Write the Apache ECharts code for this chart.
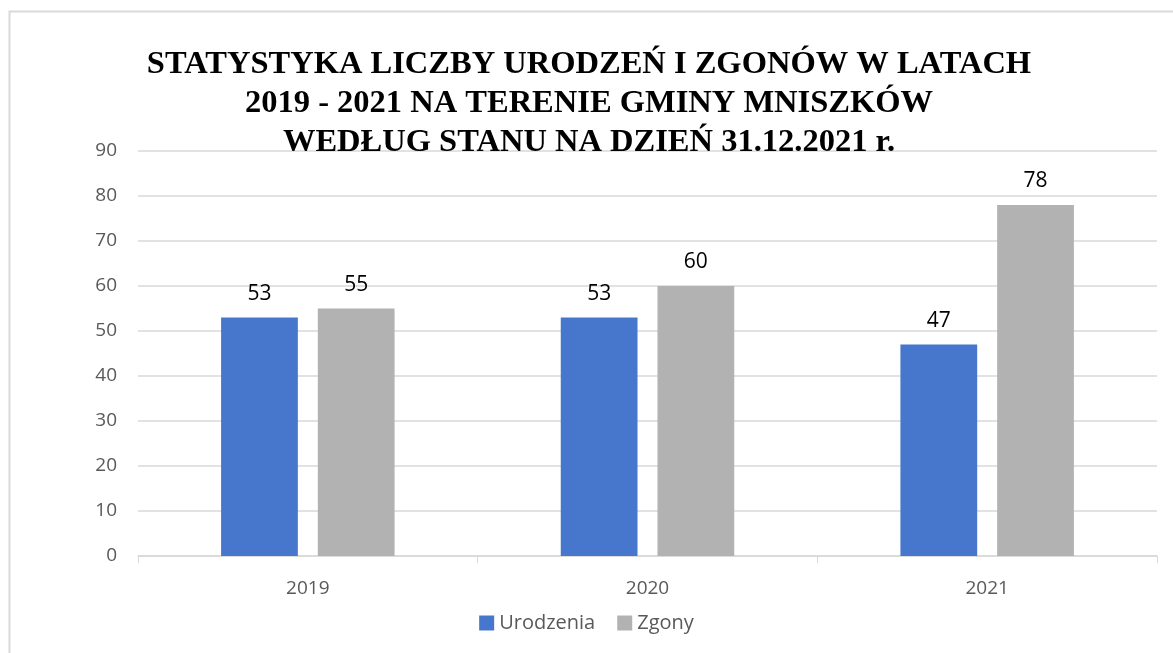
<!DOCTYPE html>
<html>
<head>
<meta charset="utf-8">
<script src="https://cdn.jsdelivr.net/npm/echarts@6/dist/echarts.min.js"></script>
<style>
  html, body { margin: 0; padding: 0; background: #fff; }
  #chart { width: 1173px; height: 653px; }
</style>
</head>
<body>
<div id="chart"></div>
<script>
// dane z wykresu
const years = ['2019', '2020', '2021']
const urodzenia = [53, 53, 47]
const zgony = [55, 60, 78]
const yTicks = { min: 0, max: 90, interval: 10 }

const chart = echarts.init(document.getElementById('chart'))

const labelStyle = {
  show: true,
  position: 'top',
  distance: 13,
  color: '#000',
  fontSize: 21,
  fontFamily: 'Open Sans'
}

const option = {
  animation: false,
  backgroundColor: '#fff',
  title: {
    text: 'STATYSTYKA LICZBY URODZEŃ I ZGONÓW W LATACH\n2019 - 2021 NA TERENIE GMINY MNISZKÓW\nWEDŁUG STANU NA DZIEŃ 31.12.2021 r.',
    left: 584,
    top: 40,
    textAlign: 'center',
    textStyle: {
      fontFamily: 'Liberation Serif',
      fontWeight: 'bold',
      fontSize: 32.5,
      lineHeight: 39,
      color: '#000'
    }
  },
  graphic: [{
    type: 'rect',
    shape: { x: 9.5, y: 11.5, width: 1180, height: 660 },
    style: { fill: 'none', stroke: '#d9d9d9', lineWidth: 2 },
    silent: true
  }],
  legend: {
    bottom: 15,
    left: 'center',
    itemWidth: 15,
    itemHeight: 15,
    itemGap: 22,
    icon: 'rect',
    textStyle: { fontSize: 20, color: '#595959', fontFamily: 'Open Sans' }
  },
  grid: { left: 138, right: 16, top: 151, bottom: 97 },
  xAxis: {
    type: 'category',
    data: years,
    axisLine: { lineStyle: { color: '#d9d9d9', width: 1.5 } },
    axisTick: { show: true, length: 7, lineStyle: { color: '#d9d9d9' } },
    axisLabel: { color: '#595959', fontSize: 19, margin: 23, fontFamily: 'Open Sans' }
  },
  yAxis: {
    type: 'value',
    min: yTicks.min,
    max: yTicks.max,
    interval: yTicks.interval,
    axisLine: { show: false },
    axisTick: { show: false },
    splitLine: { lineStyle: { color: '#d9d9d9', width: 1.5 } },
    axisLabel: { color: '#595959', fontSize: 19, margin: 21, fontFamily: 'Open Sans' }
  },
  series: [
    {
      name: 'Urodzenia',
      type: 'bar',
      data: urodzenia,
      barWidth: '22.6%',
      barGap: '26%',
      itemStyle: { color: '#4677cc' },
      label: labelStyle
    },
    {
      name: 'Zgony',
      type: 'bar',
      data: zgony,
      barWidth: '22.6%',
      itemStyle: { color: '#b2b2b2' },
      label: labelStyle
    }
  ]
}

chart.setOption(option)
</script>
</body>
</html>
